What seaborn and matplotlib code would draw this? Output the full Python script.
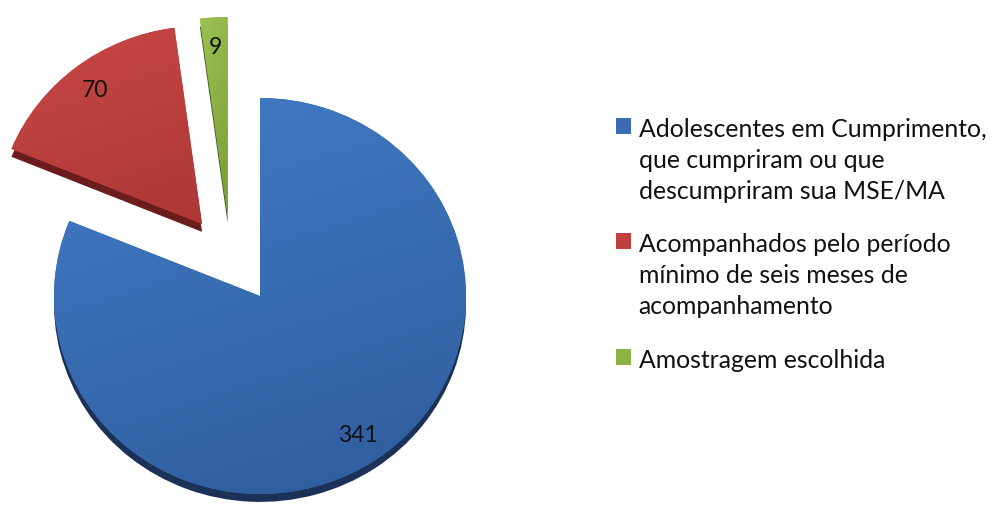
import numpy as np
import pandas as pd
import matplotlib
matplotlib.use("Agg")
import matplotlib.pyplot as plt
import matplotlib.colors as mcolors
import seaborn as sns
from matplotlib.patches import Patch

categories = [
    "Adolescentes em Cumprimento,\nque cumpriram ou que\ndescumpriram sua MSE/MA",
    "Acompanhados pelo período\nmínimo de seis meses de\nacompanhamento",
    "Amostragem escolhida",
]
values = [341, 70, 9]

sns.set_theme(style="white")
plt.rcParams["font.family"] = ["Lato", "DejaVu Sans"]

colors = ["#3A6DB2", "#BE3F3D", "#8CB244"]
light_colors = ["#417CC6", "#C84846", "#9BC052"]
dark_colors = ["#2F5C9B", "#AC3735", "#7A9E38"]
depth_colors = ["#1C3157", "#6A1D1C", "#4B6322"]

df = pd.DataFrame({"categoria": categories, "valor": values})
total = df["valor"].sum()

W, H = 993, 509
fig = plt.figure(figsize=(W / 100, H / 100), dpi=100)
ax = fig.add_axes([0, 0, 1, 1])

explode = [0.0, 0.46, 0.41]
green_shift = (-0.13, 0.0)
depth = 0.04


def draw(cols, center, z, with_labels):
    res = ax.pie(
        df["valor"], colors=cols, explode=explode, startangle=90,
        counterclock=False, center=center,
        autopct=(lambda p: f"{p * total / 100:.0f}") if with_labels else None,
        pctdistance=0.85,
        textprops=dict(color="#111111", fontsize=16.5),
        wedgeprops=dict(linewidth=0, zorder=z),
    )
    wedges = res[0]
    gw = wedges[2]
    cx, cy = gw.center
    gw.set_center((cx + green_shift[0], cy + green_shift[1]))
    if with_labels:
        for t in res[2]:
            t.set_zorder(z + 1)
        gt = res[2][2]
        x, y = gt.get_position()
        gt.set_position((x + green_shift[0], y + green_shift[1]))
    return wedges


draw(depth_colors, (0, -depth), 1, False)
wedges = draw(colors, (0, 0), 2, True)

# soft diagonal shading inside each slice
for w, lc, dc in zip(wedges, light_colors, dark_colors):
    ext = w.get_path().get_extents()
    a = np.array(mcolors.to_rgb(lc))
    b = np.array(mcolors.to_rgb(dc))
    yy, xx = np.mgrid[0:1:120j, 0:1:120j]
    t = np.clip(0.75 * yy + 0.25 * xx, 0, 1)[..., None]
    img = a * (1 - t) + b * t
    im = ax.imshow(img, extent=[ext.x0, ext.x1, ext.y0, ext.y1], origin="upper",
                   aspect="auto", zorder=2.5, interpolation="bilinear")
    im.set_clip_path(w)

# pixel geometry of the (slightly flattened) pie
cx_px, cy_px, rx, ry = 260, 296, 206, 198
ax.set_aspect("auto")
ax.set_xlim(-cx_px / rx, (W - cx_px) / rx)
ax.set_ylim(-(H - cy_px) / ry, cy_px / ry)
ax.axis("off")

handles = [Patch(facecolor=c, edgecolor="none") for c in colors]
leg = ax.legend(
    handles, categories, loc="upper left",
    bbox_to_anchor=(616 / W, 1 - 118 / H), bbox_transform=fig.transFigure,
    frameon=False, fontsize=17.8, handlelength=0.62, handleheight=0.6,
    handletextpad=0.3, labelspacing=1.25, borderpad=0, borderaxespad=0,
)
for t in leg.get_texts():
    t.set_linespacing(1.41)
    t.set_color("#111111")
for col in leg._legend_handle_box.get_children():
    for hp in col.get_children():
        hp.align = "top"
leg.set_zorder(5)

fig.savefig("out.png", dpi=100)
